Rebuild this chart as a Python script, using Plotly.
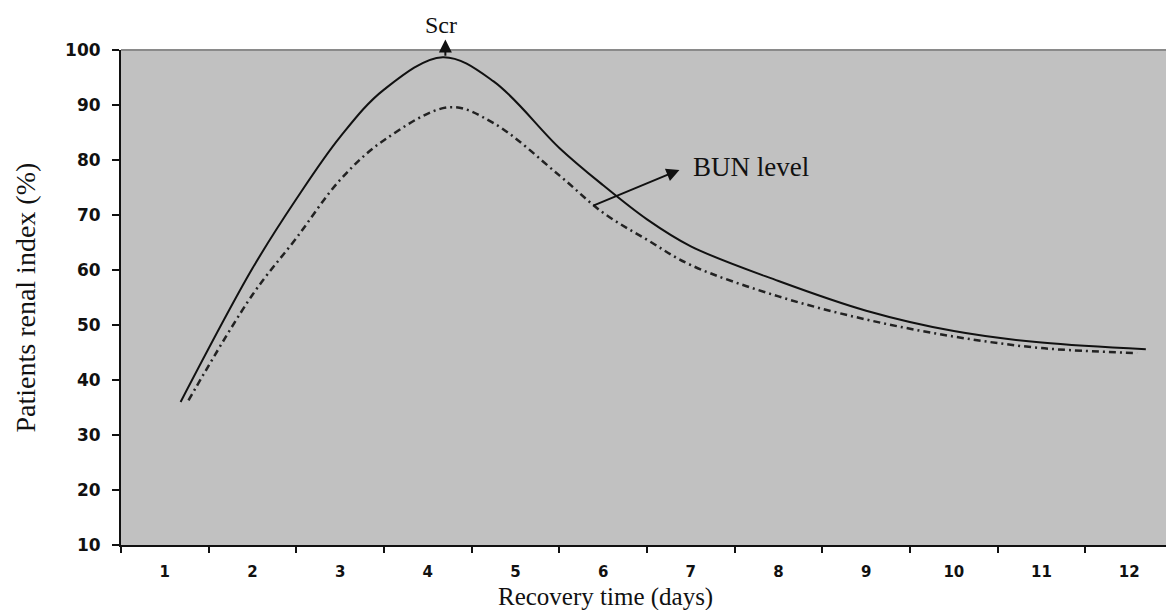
import plotly.graph_objects as go

# Data
days_ticks = [1, 2, 3, 4, 5, 6, 7, 8, 9, 10, 11, 12]
y_ticks = [10, 20, 30, 40, 50, 60, 70, 80, 90, 100]

scr_x = [1.18, 2, 2.5, 3, 3.5, 4.17, 4.75, 5.5, 6, 6.5, 7, 8, 9, 10, 11, 12.19]
scr_y = [36.0, 60.3, 72.9, 84.2, 92.8, 98.7, 94.3, 82.2, 75.4, 69.2, 64.3, 58.0, 52.6, 48.9, 46.8, 45.6]

bun_x = [1.27, 2, 2.5, 3, 3.5, 4.25, 4.75, 5.5, 6, 6.5, 7, 8, 9, 10, 11, 12.09]
bun_y = [36.3, 55.5, 65.8, 76.4, 83.6, 89.6, 86.7, 77.2, 70.4, 65.5, 60.9, 55.2, 51.0, 47.9, 45.8, 44.9]

fig = go.Figure()
fig.add_trace(go.Scatter(x=scr_x, y=scr_y, mode="lines", name="Scr",
                         line=dict(color="#111111", width=2, shape="spline", smoothing=1.0)))
fig.add_trace(go.Scatter(x=bun_x, y=bun_y, mode="lines", name="BUN level",
                         line=dict(color="#222222", width=2.5, shape="spline", smoothing=1.0,
                                   dash="7px,4px,2px,4px")))

serif = "Liberation Serif, Times New Roman, serif"
sans = "DejaVu Sans, Arial, sans-serif"

fig.update_layout(
    width=1166, height=610,
    margin=dict(l=121, r=0, t=50, b=65),
    paper_bgcolor="white", plot_bgcolor="#c1c1c1",
    showlegend=False,
    xaxis=dict(range=[0.5, 12.42], tickvals=days_ticks, ticktext=[str(d) for d in days_ticks],
               ticks="", showgrid=False, zeroline=False,
               showline=True, linecolor="#111111", linewidth=2,
               tickfont=dict(family=sans, size=15, color="#111111", weight="bold"),
               ticklabelstandoff=12,
               minor=dict(ticks="outside", tick0=0.5, dtick=1, ticklen=6, tickwidth=2,
                          tickcolor="#111111", showgrid=False)),
    yaxis=dict(range=[10, 100], tickvals=y_ticks, ticks="outside", ticklen=7, tickwidth=2,
               tickcolor="#111111", showgrid=False, zeroline=False,
               showline=True, linecolor="#111111", linewidth=2,
               tickfont=dict(family=sans, size=17, color="#111111", weight="bold"),
               ticklabelstandoff=8),
    shapes=[dict(type="line", xref="paper", yref="paper", x0=0, x1=1, y0=1, y1=1,
                 line=dict(color="#8a8a8a", width=2))],
)

# Axis titles
fig.add_annotation(text="Recovery time (days)", xref="paper", yref="paper",
                   x=(605 - 121) / 1045, y=-52 / 495, xanchor="center", yanchor="middle",
                   showarrow=False, font=dict(family=serif, size=25, color="#111111"))
fig.add_annotation(text="Patients renal index (%)", xref="paper", yref="paper",
                   x=-(121 - 25) / 1045, y=0.5, xanchor="center", yanchor="middle",
                   textangle=-90, showarrow=False,
                   font=dict(family=serif, size=28, color="#111111"))

# Arrows
fig.add_annotation(x=4.2, y=101.9, ax=4.2, ay=98.7, xref="x", yref="y", axref="x", ayref="y",
                   text="", showarrow=True, arrowhead=2, arrowsize=1.3, arrowwidth=2,
                   arrowcolor="#111111")
fig.add_annotation(x=6.87, y=78.2, ax=5.87, ay=71.6, xref="x", yref="y", axref="x", ayref="y",
                   text="", showarrow=True, arrowhead=2, arrowsize=1.3, arrowwidth=2,
                   arrowcolor="#111111")

# Labels
fig.add_annotation(text="Scr", x=4.155, y=1 + 25 / 495, xref="x", yref="paper", xanchor="center",
                   yanchor="middle", showarrow=False,
                   font=dict(family=serif, size=24, color="#111111"))
fig.add_annotation(text="BUN level", x=7.0, y=78.7, xref="x", yref="y", xanchor="left",
                   yanchor="middle", showarrow=False,
                   font=dict(family=serif, size=27, color="#111111"))

fig.write_html("out.html", config={"displayModeBar": False},
               post_script="document.body.style.margin='0px';")
